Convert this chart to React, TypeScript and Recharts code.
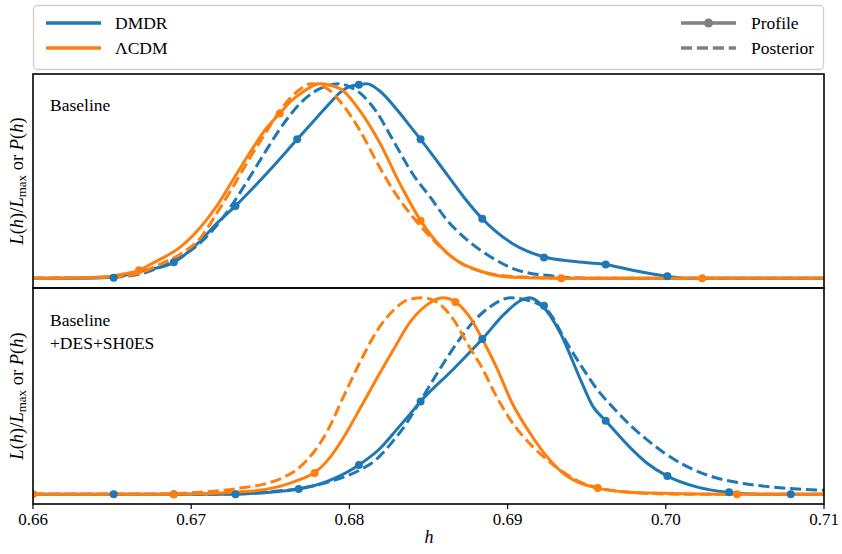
import React from 'react';
import { ComposedChart, Line, XAxis, YAxis } from 'recharts';

const BLUE = '#1f77b4';
const ORANGE = '#ff7f0e';
const GREY = '#808080';
const FONT = '"Liberation Serif", "DejaVu Serif", serif';

const xTicks = [0.66, 0.67, 0.68, 0.69, 0.7, 0.71];
const xTickLabels = ['0.66', '0.67', '0.68', '0.69', '0.70', '0.71'];
const seriesNames = ['DMDR', '\u039BCDM'];
const styleNames = ['Profile', 'Posterior'];
const panelLabels = [['Baseline'], ['Baseline', '+DES+SH0ES']];

// ---------- Top panel: Baseline ----------
const topDmdrProfileCurve: [number, number][] = [
  [0.66, 0], [0.663, 0], [0.6651, 0.005], [0.6668, 0.036], [0.6689, 0.082], [0.6706, 0.194],
  [0.6716, 0.281], [0.6728, 0.372], [0.6748, 0.541], [0.6767, 0.714], [0.678, 0.832],
  [0.6788, 0.903], [0.6794, 0.954], [0.68, 0.985], [0.6806, 0.995], [0.6811, 1.0],
  [0.6819, 0.964], [0.6831, 0.857], [0.6838, 0.786], [0.6845, 0.714], [0.6862, 0.53],
  [0.6873, 0.41], [0.6884, 0.306], [0.6903, 0.179], [0.6922, 0.112], [0.6941, 0.087],
  [0.6962, 0.071], [0.6979, 0.041], [0.7001, 0.01], [0.7013, 0], [0.71, 0],
];
const topDmdrProfileDots: [number, number][] = [
  [0.6651, 0.003], [0.6689, 0.082], [0.6728, 0.372], [0.6767, 0.714], [0.6806, 0.995],
  [0.6845, 0.714], [0.6884, 0.306], [0.6923, 0.107], [0.6962, 0.071], [0.7001, 0.01],
];
const topDmdrPosteriorCurve: [number, number][] = [
  [0.66, 0], [0.6649, 0.005], [0.6667, 0.02], [0.668, 0.056], [0.6695, 0.117], [0.6706, 0.184],
  [0.6716, 0.27], [0.6726, 0.38], [0.6737, 0.52], [0.6748, 0.665], [0.6758, 0.79],
  [0.6769, 0.9], [0.6778, 0.96], [0.6786, 0.99], [0.6793, 1.0], [0.68, 0.985], [0.6807, 0.95],
  [0.6817, 0.857], [0.6828, 0.704], [0.684, 0.536], [0.6851, 0.418], [0.6862, 0.296],
  [0.6872, 0.214], [0.6883, 0.143], [0.6893, 0.092], [0.6903, 0.051], [0.6914, 0.026],
  [0.6925, 0.015], [0.6935, 0.005], [0.6958, 0], [0.71, 0],
];
const topLcdmProfileCurve: [number, number][] = [
  [0.66, 0], [0.664, 0.005], [0.666, 0.026], [0.6667, 0.041], [0.6674, 0.071], [0.6695, 0.173],
  [0.6716, 0.37], [0.6726, 0.5], [0.6737, 0.645], [0.6748, 0.776], [0.6756, 0.847],
  [0.6763, 0.91], [0.6771, 0.96], [0.6781, 1.0], [0.6794, 0.975], [0.6807, 0.857],
  [0.6819, 0.699], [0.6832, 0.485], [0.6845, 0.296], [0.6862, 0.128], [0.6883, 0.036],
  [0.6903, 0.005], [0.6934, 0], [0.71, 0],
];
const topLcdmProfileDots: [number, number][] = [
  [0.6667, 0.041], [0.6756, 0.847], [0.6845, 0.296], [0.6934, 0], [0.7023, 0],
];
const topLcdmPosteriorCurve: [number, number][] = [
  [0.66, 0], [0.6649, 0.005], [0.6667, 0.026], [0.668, 0.071], [0.6695, 0.133], [0.6706, 0.209],
  [0.6716, 0.332], [0.6726, 0.464], [0.6737, 0.617], [0.6748, 0.76], [0.6758, 0.883],
  [0.6767, 0.96], [0.6776, 1.0], [0.6785, 0.98], [0.6794, 0.91], [0.6807, 0.755],
  [0.6817, 0.602], [0.6828, 0.449], [0.684, 0.316], [0.6851, 0.214], [0.6862, 0.128],
  [0.6872, 0.07], [0.6883, 0.036], [0.6895, 0.015], [0.6914, 0.005], [0.6933, 0], [0.71, 0],
];

// ---------- Bottom panel: Baseline+DES+SH0ES ----------
const botDmdrProfileCurve: [number, number][] = [
  [0.66, 0], [0.6728, 0], [0.675, 0.01], [0.6768, 0.026], [0.6788, 0.072], [0.6806, 0.149],
  [0.6819, 0.23], [0.683, 0.33], [0.6838, 0.405], [0.6845, 0.472], [0.6865, 0.631],
  [0.6884, 0.79], [0.6898, 0.918], [0.6908, 0.985], [0.6914, 1.0], [0.6922, 0.959],
  [0.6933, 0.826], [0.6946, 0.585], [0.6954, 0.446], [0.6962, 0.374], [0.6977, 0.241],
  [0.6988, 0.159], [0.7001, 0.092], [0.702, 0.036], [0.7039, 0.01], [0.7059, 0], [0.71, 0],
];
const botDmdrProfileDots: [number, number][] = [
  [0.6651, 0], [0.6689, 0], [0.6728, 0], [0.6768, 0.026], [0.6806, 0.149], [0.6845, 0.472],
  [0.6884, 0.79], [0.6923, 0.959], [0.6962, 0.374], [0.7001, 0.092], [0.704, 0.01], [0.7079, 0],
];
const botDmdrPosteriorCurve: [number, number][] = [
  [0.66, 0], [0.6706, 0], [0.6744, 0.01], [0.6769, 0.03], [0.6788, 0.065], [0.6807, 0.125],
  [0.6816, 0.17], [0.6826, 0.255], [0.6836, 0.36], [0.6846, 0.49], [0.6857, 0.635],
  [0.6868, 0.77], [0.6878, 0.875], [0.6889, 0.955], [0.6902, 1.0], [0.6914, 0.985],
  [0.6927, 0.918], [0.6936, 0.79], [0.6946, 0.66], [0.6956, 0.54], [0.6968, 0.43],
  [0.6979, 0.34], [0.699, 0.265], [0.6999, 0.21], [0.701, 0.155], [0.7022, 0.11],
  [0.7031, 0.085], [0.7051, 0.052], [0.7072, 0.033], [0.71, 0.02],
];
const botLcdmProfileCurve: [number, number][] = [
  [0.66, 0], [0.6689, 0], [0.6737, 0.015], [0.6756, 0.04], [0.6769, 0.075], [0.6778, 0.11],
  [0.6788, 0.19], [0.6796, 0.285], [0.6807, 0.44], [0.6817, 0.585], [0.6828, 0.738],
  [0.6838, 0.872], [0.6849, 0.964], [0.6859, 1.0], [0.6867, 0.979], [0.6876, 0.903],
  [0.6884, 0.79], [0.6893, 0.646], [0.6903, 0.462], [0.6914, 0.313], [0.6925, 0.19],
  [0.6935, 0.108], [0.6946, 0.056], [0.6957, 0.031], [0.6977, 0.01], [0.6998, 0.005],
  [0.7045, 0], [0.71, 0],
];
const botLcdmProfileDots: [number, number][] = [
  [0.66, 0], [0.6689, 0], [0.6778, 0.108], [0.6867, 0.979], [0.6957, 0.031], [0.7045, 0],
];
const botLcdmPosteriorCurve: [number, number][] = [
  [0.66, 0], [0.6674, 0], [0.6706, 0.01], [0.6731, 0.031], [0.675, 0.06], [0.6759, 0.088],
  [0.6769, 0.14], [0.6778, 0.22], [0.6786, 0.32], [0.6796, 0.492], [0.6807, 0.677],
  [0.6817, 0.826], [0.6828, 0.938], [0.6837, 0.99], [0.6846, 1.0], [0.6855, 0.979],
  [0.6866, 0.887], [0.6874, 0.774], [0.6883, 0.656], [0.6893, 0.497], [0.6903, 0.364],
  [0.6916, 0.241], [0.6925, 0.175], [0.6935, 0.113], [0.6946, 0.062], [0.6958, 0.031],
  [0.6977, 0.01], [0.7009, 0], [0.71, 0],
];

const toRows = (pts: [number, number][]) => pts.map(([h, v]) => ({ h, v }));

const W = 842;
const PLOT_LEFT = 33;
const PLOT_RIGHT = 824;
const TOP_Y = 74;
const MID_Y = 288;
const BOT_Y = 504;
const DASH = '11.1 4.8';

type PanelProps = {
  profileBlue: [number, number][];
  dotsBlue: [number, number][];
  postBlue: [number, number][];
  profileOrange: [number, number][];
  dotsOrange: [number, number][];
  postOrange: [number, number][];
  showAxis: boolean;
  height: number;
};

const TickLabel = (props: any) => {
  const { x, y, index, payload } = props;
  return (
    <text x={x} y={y} dy={8} textAnchor="middle" dominantBaseline="central" fontFamily={FONT} fontSize={17} fill="#000">
      {xTickLabels[index] ?? String(payload.value)}
    </text>
  );
};

const Panel = (p: PanelProps) => (
  <ComposedChart
    width={W}
    height={p.height}
    margin={{ top: 0, right: W - PLOT_RIGHT, bottom: 0, left: PLOT_LEFT }}
  >
    <XAxis
      dataKey="h"
      type="number"
      domain={[0.66, 0.71]}
      ticks={xTicks}
      allowDataOverflow
      hide={!p.showAxis}
      height={p.showAxis ? 50 : 0}
      axisLine={false}
      tickLine={{ stroke: '#000', strokeWidth: 1.2 }}
      tickSize={5}
      interval={0}
      tick={<TickLabel />}
    />
    <YAxis type="number" domain={[-0.05, 1.05]} hide allowDataOverflow />
    <Line data={toRows(p.profileBlue)} dataKey="v" type="monotone" stroke={BLUE} strokeWidth={3} dot={false} activeDot={false} isAnimationActive={false} />
    <Line data={toRows(p.dotsBlue)} dataKey="v" type="linear" stroke="none" strokeWidth={0} dot={{ r: 4, fill: BLUE, stroke: BLUE, strokeWidth: 0 }} activeDot={false} isAnimationActive={false} />
    <Line data={toRows(p.postBlue)} dataKey="v" type="monotone" stroke={BLUE} strokeWidth={3} strokeDasharray={DASH} dot={false} activeDot={false} isAnimationActive={false} />
    <Line data={toRows(p.profileOrange)} dataKey="v" type="monotone" stroke={ORANGE} strokeWidth={3} dot={false} activeDot={false} isAnimationActive={false} />
    <Line data={toRows(p.dotsOrange)} dataKey="v" type="linear" stroke="none" strokeWidth={0} dot={{ r: 4, fill: ORANGE, stroke: ORANGE, strokeWidth: 0 }} activeDot={false} isAnimationActive={false} />
    <Line data={toRows(p.postOrange)} dataKey="v" type="monotone" stroke={ORANGE} strokeWidth={3} strokeDasharray={DASH} dot={false} activeDot={false} isAnimationActive={false} />
  </ComposedChart>
);

const YLabel = ({ cy }: { cy: number }) => (
  <text
    x={17}
    y={cy}
    transform={`rotate(-90, 17, ${cy})`}
    textAnchor="middle"
    dominantBaseline="central"
    fontFamily={FONT}
    fontSize={18.5}
    fill="#000"
  >
    <tspan fontStyle="italic">L</tspan>(<tspan fontStyle="italic">h</tspan>)/<tspan fontStyle="italic">L</tspan>
    <tspan fontSize={13} dy={4}>max</tspan>
    <tspan dy={-4}> or </tspan>
    <tspan fontStyle="italic">P</tspan>(<tspan fontStyle="italic">h</tspan>)
  </text>
);

export default function App() {
  return (
    <div style={{ position: 'absolute', left: 0, top: 0, width: W, height: 554, background: '#fff' }}>
      <div style={{ position: 'absolute', left: 0, top: TOP_Y }}>
        <Panel
          profileBlue={topDmdrProfileCurve}
          dotsBlue={topDmdrProfileDots}
          postBlue={topDmdrPosteriorCurve}
          profileOrange={topLcdmProfileCurve}
          dotsOrange={topLcdmProfileDots}
          postOrange={topLcdmPosteriorCurve}
          showAxis={false}
          height={MID_Y - TOP_Y}
        />
      </div>
      <div style={{ position: 'absolute', left: 0, top: MID_Y }}>
        <Panel
          profileBlue={botDmdrProfileCurve}
          dotsBlue={botDmdrProfileDots}
          postBlue={botDmdrPosteriorCurve}
          profileOrange={botLcdmProfileCurve}
          dotsOrange={botLcdmProfileDots}
          postOrange={botLcdmPosteriorCurve}
          showAxis={true}
          height={BOT_Y - MID_Y + 50}
        />
      </div>
      <svg width={W} height={554} style={{ position: 'absolute', left: 0, top: 0, pointerEvents: 'none' }}>
        <rect x={PLOT_LEFT} y={TOP_Y} width={PLOT_RIGHT - PLOT_LEFT} height={MID_Y - TOP_Y} fill="none" stroke="#000" strokeWidth={1.6} />
        <rect x={PLOT_LEFT} y={MID_Y} width={PLOT_RIGHT - PLOT_LEFT} height={BOT_Y - MID_Y} fill="none" stroke="#000" strokeWidth={1.6} />
        <rect x={33.5} y={5.5} width={790} height={64} rx={4} ry={4} fill="#fff" stroke="#d0d0d0" strokeWidth={1.3} />
        <line x1={46} y1={23} x2={101} y2={23} stroke={BLUE} strokeWidth={3.5} />
        <text x={115} y={23} dominantBaseline="central" fontFamily={FONT} fontSize={17.5} fill="#000">{seriesNames[0]}</text>
        <line x1={46} y1={48} x2={101} y2={48} stroke={ORANGE} strokeWidth={3.5} />
        <text x={115} y={48} dominantBaseline="central" fontFamily={FONT} fontSize={17.5} fill="#000">{seriesNames[1]}</text>
        <line x1={681} y1={23} x2={736} y2={23} stroke={GREY} strokeWidth={3.5} />
        <circle cx={708.5} cy={23} r={4.5} fill={GREY} />
        <text x={751} y={23} dominantBaseline="central" fontFamily={FONT} fontSize={17.5} fill="#000">{styleNames[0]}</text>
        <line x1={681} y1={48} x2={736} y2={48} stroke={GREY} strokeWidth={3.5} strokeDasharray={DASH} />
        <text x={751} y={48} dominantBaseline="central" fontFamily={FONT} fontSize={17.5} fill="#000">{styleNames[1]}</text>
        <text x={50} y={105} dominantBaseline="central" fontFamily={FONT} fontSize={17.5} fill="#000">{panelLabels[0][0]}</text>
        <text x={50} y={320} dominantBaseline="central" fontFamily={FONT} fontSize={17.5} fill="#000">{panelLabels[1][0]}</text>
        <text x={50} y={343} dominantBaseline="central" fontFamily={FONT} fontSize={17.5} fill="#000">{panelLabels[1][1]}</text>
        <YLabel cy={181} />
        <YLabel cy={396} />
        <text x={429} y={537} textAnchor="middle" dominantBaseline="central" fontFamily={FONT} fontSize={18} fontStyle="italic" fill="#000">h</text>
      </svg>
    </div>
  );
}
